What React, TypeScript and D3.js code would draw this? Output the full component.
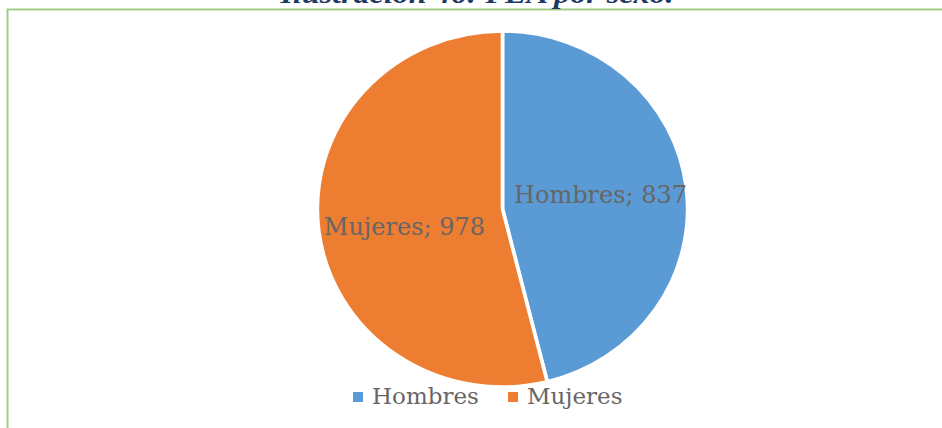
import React from 'react';
import * as d3 from 'd3';

const categories = ['Hombres', 'Mujeres'];
const values = [837, 978];
const colors = ['#5B9BD5', '#ED7D31'];
const title = 'Ilustración 46: PEA por sexo.';

const W = 942;
const H = 428;
const cx = 502.5;
const cy = 209;
const r = 178;
const sx = 1.04; // the source picture is a little wider than tall

export default function App() {
  const pie = d3.pie<number>().sort(null).startAngle(0).endAngle(2 * Math.PI);
  const arcs = pie(values);
  const arc = d3.arc<d3.PieArcDatum<number>>().innerRadius(0).outerRadius(r);
  const labelArc = d3.arc<d3.PieArcDatum<number>>().innerRadius(95).outerRadius(95);
  const labelDy = [6, 14];

  // legend placement
  const legendX = [353, 508];
  const legendY = 397;

  return (
    <svg
      width={W}
      height={H}
      style={{ position: 'absolute', left: 0, top: 0, background: '#fff' }}
    >
      {/* frame */}
      <path d={`M7.5,${H} V9.5 H${W}`} fill="none" stroke="#A2CD85" strokeWidth={2} />

      {/* title, clipped at the top in the source */}
      <text
        x={477}
        y={3}
        textAnchor="middle"
        fontFamily="'Liberation Serif', serif"
        fontWeight="bold"
        fontStyle="italic"
        fontSize={27}
        fill="#1F3864"
        textLength={393}
        lengthAdjust="spacingAndGlyphs"
      >
        {title}
      </text>

      <g transform={`translate(${cx},${cy}) scale(${sx},1)`}>
        {arcs.map((a, i) => (
          <path key={categories[i]} d={arc(a) || ''} fill={colors[i]} stroke="#fff" strokeWidth={3.5} />
        ))}
      </g>

      {arcs.map((a, i) => {
        const [lx, ly] = labelArc.centroid(a);
        return (
          <text
            key={'l' + i}
            x={cx + lx * sx}
            y={cy + ly + labelDy[i]}
            textAnchor="middle"
            fontFamily="'DejaVu Serif', serif"
            fontSize={24}
            fill="#666666"
          >
            {`${categories[i]}; ${values[i]}`}
          </text>
        );
      })}

      {categories.map((c, i) => (
        <g key={'lg' + c}>
          <rect x={legendX[i]} y={legendY - 5} width={10} height={10} fill={colors[i]} />
          <text
            x={legendX[i] + 19}
            y={legendY + 7}
            fontFamily="'DejaVu Serif', serif"
            fontSize={23}
            fill="#666666"
          >
            {c}
          </text>
        </g>
      ))}
    </svg>
  );
}
